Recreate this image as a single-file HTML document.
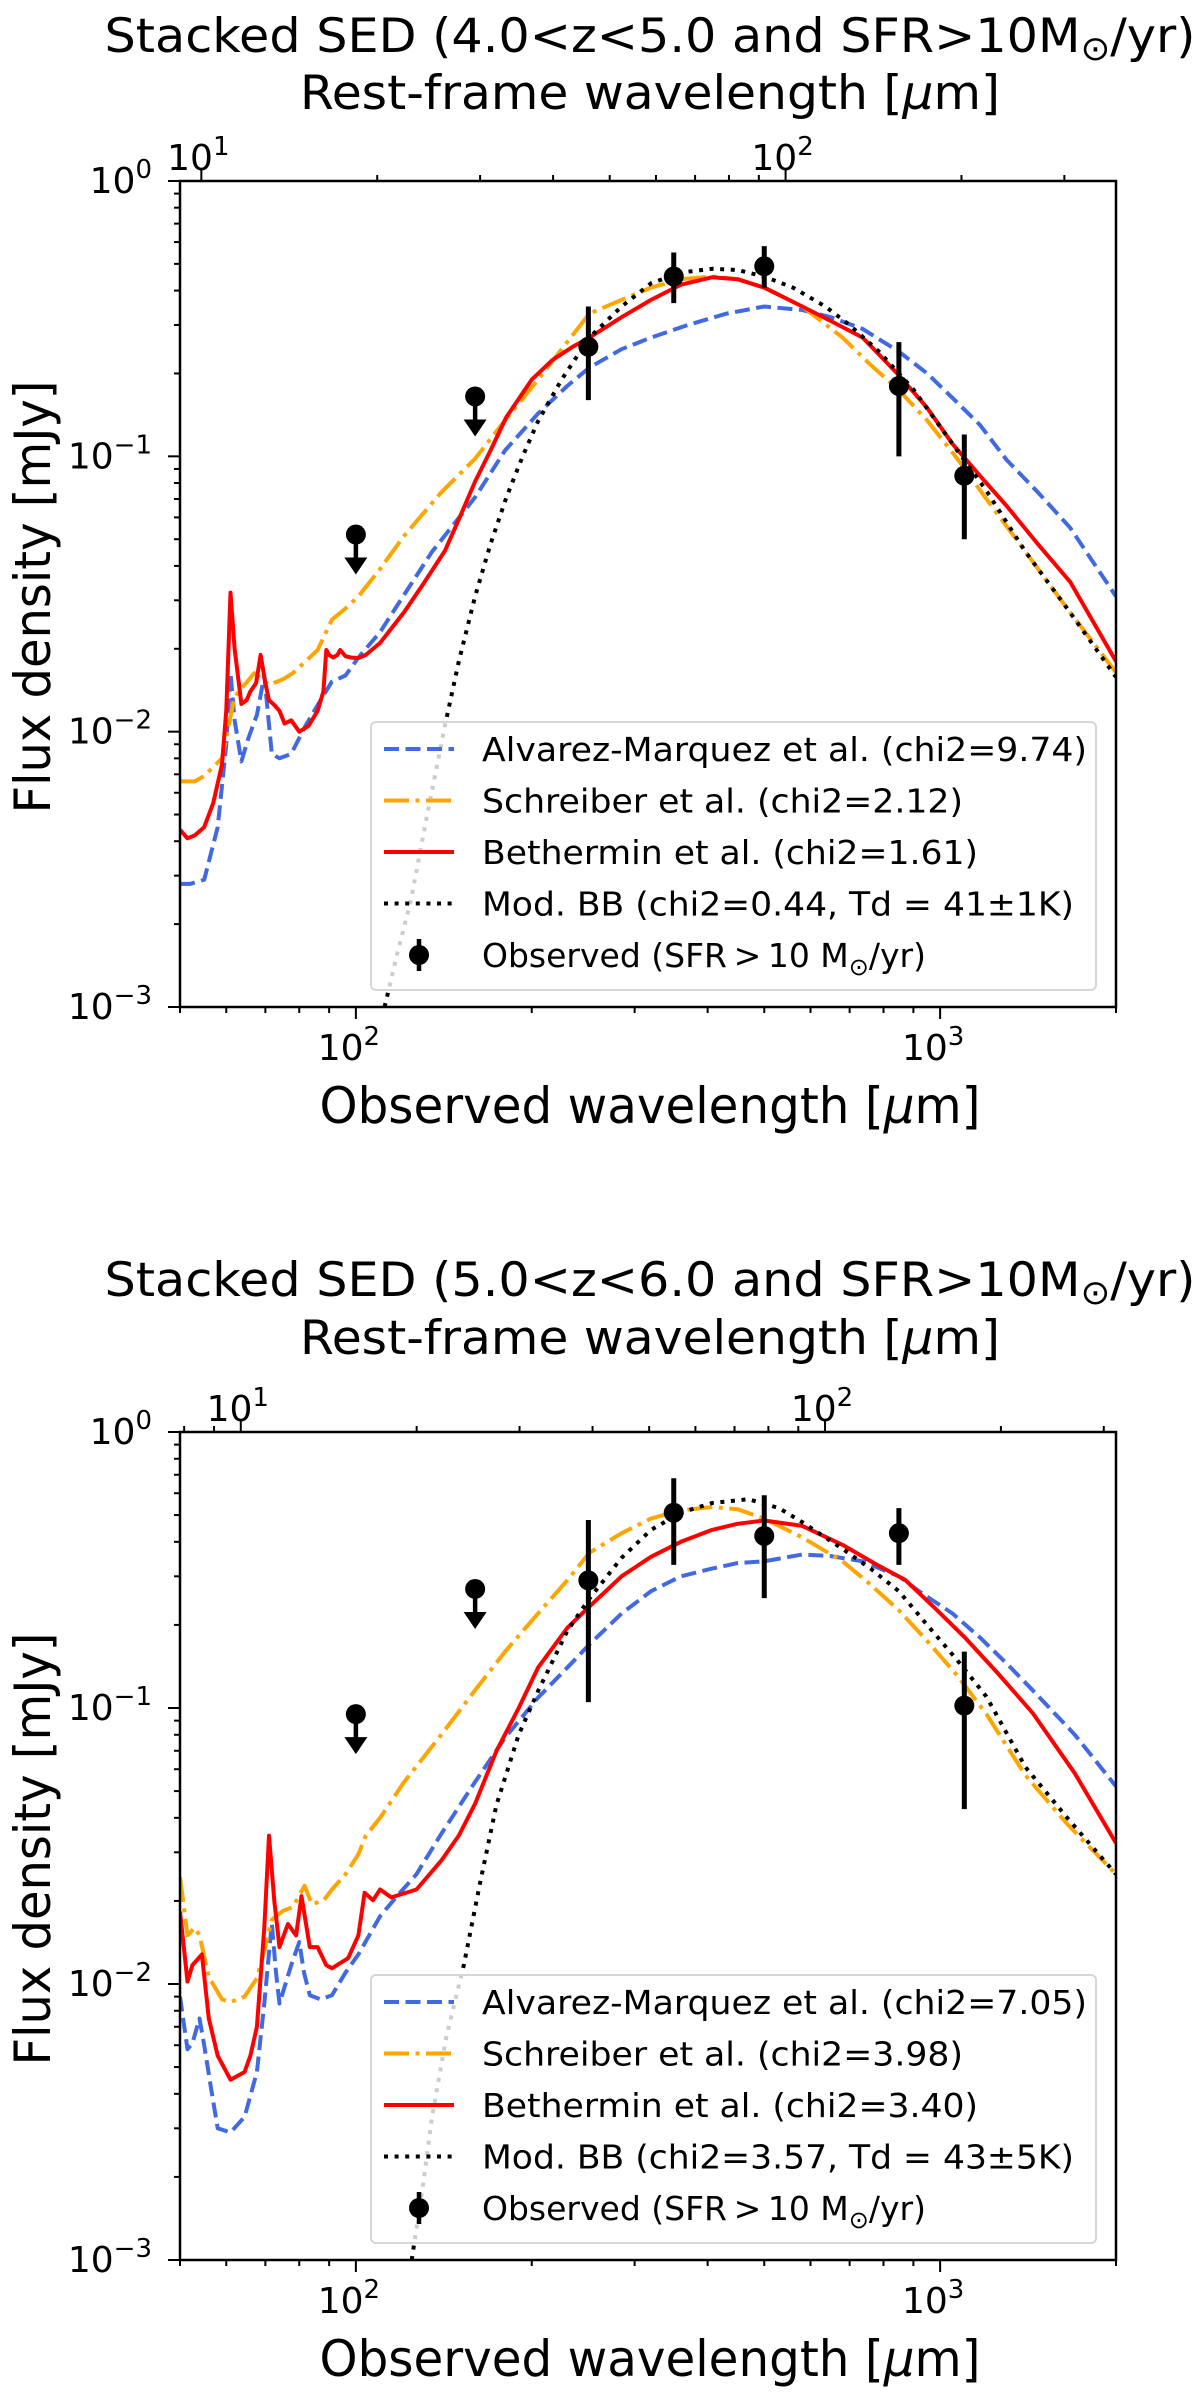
<!DOCTYPE html>
<html><head><meta charset="utf-8"><style>
html,body{margin:0;padding:0;background:#fff;}
svg{display:block;font-family:"DejaVu Sans","Liberation Sans",sans-serif;}
</style></head><body>
<svg id="fig" width="1200" height="2396" viewBox="0 0 1200 2396" xmlns="http://www.w3.org/2000/svg"></svg>
<script>
// ---------- Panel 1 data (4.0<z<5.0) ----------
const obsWave = [100,160,250,350,500,850,1100];
const p1Flux = [0.052,0.165,0.25,0.45,0.49,0.18,0.085];
const p1Lo = [null,null,0.16,0.36,0.41,0.10,0.05];
const p1Hi = [null,null,0.35,0.55,0.58,0.26,0.12];
const p1Upper = [true,true,false,false,false,false,false];

const p1BlueW = [50,52,55,58,60,61,62,63.7,65.5,67.7,69.7,71.8,74,77.5,82,87,91,96,101,110,118,135,160,180,205,230,251,285,320,370,431,500,581,650,737,850,950,1050,1170,1300,1470,1670,2000];
const p1BlueF = [0.0028,0.0028,0.0029,0.0045,0.009,0.0163,0.011,0.0078,0.0095,0.0115,0.016,0.0083,0.008,0.0083,0.0105,0.013,0.0152,0.016,0.0186,0.023,0.029,0.045,0.071,0.105,0.143,0.18,0.21,0.245,0.27,0.30,0.33,0.35,0.34,0.32,0.29,0.24,0.20,0.163,0.13,0.097,0.074,0.055,0.031];

const p1OrW = [50,53,55,59,62,64,67,71,75,78,82,86,91,96,101,110,121,140,160,180,203,230,251,285,320,360,407,450,500,581,681,760,850,950,1070,1200,1400,1650,2000];
const p1OrF = [0.0066,0.0066,0.0069,0.008,0.0134,0.0145,0.0163,0.0148,0.0155,0.0163,0.018,0.0198,0.0255,0.028,0.031,0.039,0.0515,0.074,0.098,0.135,0.185,0.26,0.33,0.37,0.41,0.44,0.45,0.44,0.41,0.35,0.27,0.215,0.174,0.135,0.098,0.07,0.045,0.028,0.0164];

const p1RedW = [50,51.5,53,55,57,59,60,61,62,63.7,65,66,67.5,68.7,70,71,72.5,74,75.5,77.5,80,83,86,88,89,90,91.4,93,94,96,98,101,104,110,121,130,142,150,160,170,181,200,217,235,251,285,320,360,407,450,500,581,650,737,850,950,1050,1170,1300,1470,1670,2000];
const p1RedF = [0.0044,0.0041,0.0042,0.0045,0.0055,0.0076,0.012,0.032,0.02,0.0126,0.013,0.014,0.015,0.019,0.015,0.013,0.0125,0.0119,0.0107,0.011,0.01,0.0105,0.0119,0.014,0.0198,0.019,0.0186,0.019,0.0198,0.0188,0.0186,0.0185,0.019,0.021,0.0272,0.034,0.0454,0.059,0.081,0.105,0.139,0.19,0.224,0.25,0.27,0.32,0.37,0.42,0.447,0.44,0.41,0.35,0.31,0.27,0.197,0.15,0.111,0.085,0.066,0.048,0.035,0.018];

const p1BbW = [112,118,124,132,142,150,160,170,181,193,205,225,251,285,320,360,407,450,500,560,636,700,786,900,1050,1200,1400,1650,2000];
const p1BbF = [0.001,0.0016,0.0024,0.0048,0.0105,0.018,0.031,0.048,0.071,0.1,0.134,0.19,0.27,0.35,0.425,0.465,0.48,0.475,0.45,0.41,0.35,0.30,0.24,0.175,0.111,0.075,0.045,0.028,0.0158];

// ---------- Panel 2 data (5.0<z<6.0) ----------
const p2Flux = [0.095,0.27,0.29,0.51,0.42,0.43,0.102];
const p2Lo = [null,null,0.105,0.33,0.25,0.33,0.043];
const p2Hi = [null,null,0.48,0.68,0.59,0.53,0.16];
const p2Upper = [true,true,false,false,false,false,false];

const p2BlueW = [50,51.5,52.5,54,55,56.5,58,61,64.5,67.7,69.7,71.8,73,74,77.5,80,81.5,83.4,87,91,96,101,110,118,127,140,160,180,205,230,251,285,320,360,407,450,500,581,650,737,850,920,1050,1170,1300,1440,1700,2000];
const p2BlueF = [0.009,0.0058,0.0061,0.0075,0.006,0.0042,0.003,0.0029,0.0033,0.0048,0.0085,0.0166,0.011,0.0085,0.0117,0.0142,0.011,0.0091,0.0088,0.0091,0.011,0.0128,0.0176,0.021,0.025,0.035,0.054,0.078,0.109,0.14,0.17,0.22,0.265,0.30,0.32,0.335,0.34,0.36,0.355,0.34,0.30,0.265,0.22,0.18,0.145,0.116,0.08,0.052];

const p2OrW = [50,51.5,53,54,56,59,61,64.5,67.7,69.7,71.8,75,78,81.7,84,88,91,96,101,104,110,121,140,160,180,205,230,251,285,320,360,407,450,500,581,681,760,850,950,1070,1200,1400,1650,2000];
const p2OrF = [0.0244,0.015,0.016,0.015,0.0106,0.0088,0.0086,0.009,0.0105,0.0132,0.0171,0.0184,0.019,0.0227,0.0195,0.02,0.022,0.025,0.0295,0.0345,0.04,0.054,0.08,0.116,0.16,0.22,0.29,0.365,0.43,0.486,0.52,0.535,0.525,0.486,0.415,0.34,0.28,0.226,0.175,0.131,0.095,0.057,0.038,0.025];

const p2RedW = [50,51.5,52.5,54.5,56,58,61,64.5,66,67.7,69.7,71,72.5,74,76.5,79,80.7,83.4,86,89,91,97,101,103.5,107,110,115,127,140,150,160,174,190,205,230,251,285,320,360,407,450,500,581,681,780,870,980,1100,1250,1440,1700,2000];
const p2RedF = [0.0183,0.0102,0.0117,0.0128,0.0075,0.0055,0.0045,0.0048,0.0055,0.007,0.016,0.0345,0.02,0.0136,0.0165,0.015,0.0208,0.0136,0.0136,0.0117,0.0114,0.0124,0.015,0.0214,0.0201,0.022,0.0206,0.022,0.028,0.0345,0.045,0.0698,0.1,0.14,0.195,0.233,0.30,0.353,0.40,0.442,0.465,0.478,0.457,0.39,0.33,0.292,0.23,0.181,0.135,0.096,0.058,0.0324];

const p2BbW = [124.6,130,135,143,153,163,174,190,205,230,251,285,320,360,407,470,530,581,681,760,850,950,1070,1200,1400,1650,2000];
const p2BbF = [0.001,0.0018,0.0033,0.0065,0.0117,0.023,0.0445,0.08,0.115,0.19,0.249,0.35,0.442,0.51,0.553,0.571,0.53,0.471,0.377,0.32,0.265,0.20,0.149,0.11,0.061,0.04,0.025];

const p1Legend = ["Alvarez-Marquez et al. (chi2=9.74)","Schreiber et al. (chi2=2.12)","Bethermin et al. (chi2=1.61)","Mod. BB (chi2=0.44, Td = 41\u00b11K)"];
const p2Legend = ["Alvarez-Marquez et al. (chi2=7.05)","Schreiber et al. (chi2=3.98)","Bethermin et al. (chi2=3.40)","Mod. BB (chi2=3.57, Td = 43\u00b15K)"];

const NS = "http://www.w3.org/2000/svg";
const fig = document.getElementById('fig');
function mk(tag, attrs, parent){
  const e = document.createElementNS(NS, tag);
  for (const k in attrs) e.setAttribute(k, attrs[k]);
  (parent||fig).appendChild(e);
  return e;
}

function panel(cfg){
  const g = mk('g', {});
  
  
  const X0=180, X1=1116, Y0=cfg.top, Y1=cfg.bottom;
  const xmin=Math.log10(50), xmax=Math.log10(2000);
  const xs = w => X0 + (Math.log10(w)-xmin)/(xmax-xmin)*(X1-X0);
  const ys = f => Y0 + (0-Math.log10(f))/3*(Y1-Y0);
  const xr = r => xs(r*cfg.opz);

  const clip = mk('clipPath', {id:'clip'+cfg.id}, g);
  mk('rect', {x:X0, y:Y0, width:X1-X0, height:Y1-Y0}, clip);
  const plot = mk('g', {'clip-path':'url(#clip'+cfg.id+')'}, g);
  
  

  function series(W, F, color, dash, nm){
    const pts = W.map((w,i)=> xs(w).toFixed(1)+','+ys(F[i]).toFixed(1)).join(' ');
    const p = mk('polyline', {points:pts, fill:'none', stroke:color, 'stroke-width':4, 'stroke-dasharray':dash, 'stroke-linejoin':'round'}, plot);
    
    
  }
  series(cfg.blueW, cfg.blueF, '#4169e1', '15,6.5', 'alvarez-marquez-curve');
  series(cfg.orW, cfg.orF, '#ffa500', '25,6.5,4,6.5', 'schreiber-curve');
  series(cfg.redW, cfg.redF, '#ff0000', 'none', 'bethermin-curve');
  series(cfg.bbW, cfg.bbF, '#000', '4,6.6', 'modified-bb-curve');

  // observed points
  obsWave.forEach((w,i)=>{
    const pg = mk('g', {}, plot);
    
    
    const cx = xs(w), cy = ys(cfg.flux[i]);
    if (cfg.upper[i]) {
      mk('line', {x1:cx, y1:cy, x2:cx, y2:cy+26, stroke:'#000', 'stroke-width':4.5}, pg);
      mk('polygon', {points:`${cx-11.5},${cy+23} ${cx+11.5},${cy+23} ${cx},${cy+40}`, fill:'#000'}, pg);
    } else {
      mk('line', {x1:cx, y1:ys(cfg.lo[i]), x2:cx, y2:ys(cfg.hi[i]), stroke:'#000', 'stroke-width':5}, pg);
    }
    mk('circle', {cx:cx, cy:cy, r:10, fill:'#000'}, pg);
  });

  // legend
  const L = cfg.leg;
  const lg = mk('g', {}, g);
  
  
  mk('rect', {x:L.x, y:L.y, width:L.w, height:L.h, rx:5, fill:'#fff', 'fill-opacity':0.8, stroke:'#d6d6d6', 'stroke-width':2}, lg);
  const cols = ['#4169e1','#ffa500','#ff0000','#000'];
  const dashes = ['15,6.5','25,6.5,4,6.5','none','4,6.6'];
  const lens = [605,481,496,592];
  cfg.legendText.forEach((t,i)=>{
    const yy = L.y + 27 + i*51.5;
    const e = mk('g', {}, lg);
    
    
    mk('line', {x1:L.x+13, y1:yy, x2:L.x+83, y2:yy, stroke:cols[i], 'stroke-width':4, 'stroke-dasharray':dashes[i]}, e);
    const tx = mk('text', {x:L.x+111, y:yy+12, 'font-size':33, textLength:lens[i], lengthAdjust:'spacingAndGlyphs'}, e);
    tx.textContent = t;
  });
  const yy = L.y + 27 + 4*51.5;
  const e = mk('g', {}, lg);
  
  
  mk('line', {x1:L.x+48, y1:yy-16, x2:L.x+48, y2:yy+16, stroke:'#000', 'stroke-width':4.5}, e);
  mk('circle', {cx:L.x+48, cy:yy, r:10, fill:'#000'}, e);
  const ot = mk('text', {x:L.x+111, y:yy+12, 'font-size':33}, e);
  ot.innerHTML = 'Observed (SFR\u2009&gt;\u200910 M<tspan font-size="24" dy="8">\u2299</tspan><tspan dy="-8">/yr)</tspan>';

  // axes frame
  const ax = mk('rect', {x:X0, y:Y0, width:X1-X0, height:Y1-Y0, fill:'none', stroke:'#000', 'stroke-width':2.5}, g);
  
  

  const tg = mk('g', {stroke:'#000', 'stroke-width':2}, g);
  
  
  // bottom x ticks
  for (let d=1; d<=3; d++) for (let m=1; m<10; m++){
    const w = m*Math.pow(10,d);
    if (w<50 || w>2000) continue;
    const x = xs(w), L2 = m===1?12:6;
    mk('line', {x1:x, y1:Y1, x2:x, y2:Y1+L2}, tg);
  }
  // top rest-frame ticks
  for (let d=0; d<=2; d++) for (let m=1; m<10; m++){
    const r = m*Math.pow(10,d);
    const x = xr(r);
    if (x<X0-0.5 || x>X1+0.5) continue;
    mk('line', {x1:x, y1:Y0, x2:x, y2:Y0-(m===1?12:6)}, tg);
  }
  // y ticks
  for (let d=-3; d<=0; d++) for (let m=1; m<10; m++){
    const f = m*Math.pow(10,d);
    if (f>1) continue;
    const y = ys(f);
    mk('line', {x1:X0, y1:y, x2:X0-(m===1?12:6), y2:y}, tg);
  }
  function powLabel(x, y, exp, anchor, nm){
    const t = mk('text', {x:x, y:y, 'font-size':36, 'text-anchor':anchor}, g);
    
    
    t.innerHTML = '10<tspan font-size="26" dy="-15">'+exp+'</tspan>';
  }
  powLabel(xs(100)-7, Y1+53, '2', 'middle', 'x-tick-label');
  powLabel(xs(1000)-7, Y1+53, '3', 'middle', 'x-tick-label');
  powLabel(xr(10)-3, Y0-11, '1', 'middle', 'top-tick-label');
  powLabel(xr(100)-3, Y0-11, '2', 'middle', 'top-tick-label');
  [0,-1,-2,-3].forEach(d=>{
    powLabel(152, ys(Math.pow(10,d))+12, d===0?'0':'\u2212'+(-d), 'end', 'y-tick-label');
  });

  function txt(s, x, y, size, len, nm, rot){
    const t = mk('text', {x:x, y:y, 'font-size':size, 'text-anchor':'middle', textLength:len, lengthAdjust:'spacingAndGlyphs'}, g);
    if (rot) t.setAttribute('transform', `rotate(-90 ${x} ${y})`);
    
    
    t.innerHTML = s;
    return t;
  }
  txt('Stacked SED ('+cfg.zr+' and SFR&gt;10M<tspan font-size="34" dy="8">\u2299</tspan><tspan dy="-8">/yr)</tspan>', 650, cfg.t1, 47, 1091, 'chart-title');
  txt('Rest-frame wavelength [<tspan font-style="italic">\u03bc</tspan>m]', 650, cfg.t2, 47, 700, 'top-axis-title');
  txt('Observed wavelength [<tspan font-style="italic">\u03bc</tspan>m]', 650, Y1+116, 50, 661, 'x-axis-title');
  txt('Flux density [mJy]', 50, (Y0+Y1)/2+3, 50, 433, 'y-axis-title', true);
}

panel({id:1, name:'sed-panel-z4-5', top:181, bottom:1007, opz:Math.pow(10,0.7355), zr:'4.0&lt;z&lt;5.0',
  t1:52, t2:109, flux:p1Flux, lo:p1Lo, hi:p1Hi, upper:p1Upper,
  blueW:p1BlueW, blueF:p1BlueF, orW:p1OrW, orF:p1OrF, redW:p1RedW, redF:p1RedF, bbW:p1BbW, bbF:p1BbF,
  leg:{x:371, y:722, w:725, h:268}, legendText:p1Legend});
panel({id:2, name:'sed-panel-z5-6', top:1432, bottom:2260, opz:Math.pow(10,0.803), zr:'5.0&lt;z&lt;6.0',
  t1:1296, t2:1354, flux:p2Flux, lo:p2Lo, hi:p2Hi, upper:p2Upper,
  blueW:p2BlueW, blueF:p2BlueF, orW:p2OrW, orF:p2OrF, redW:p2RedW, redF:p2RedF, bbW:p2BbW, bbF:p2BbF,
  leg:{x:371, y:1975, w:725, h:268}, legendText:p2Legend});
</script>
</body></html>
